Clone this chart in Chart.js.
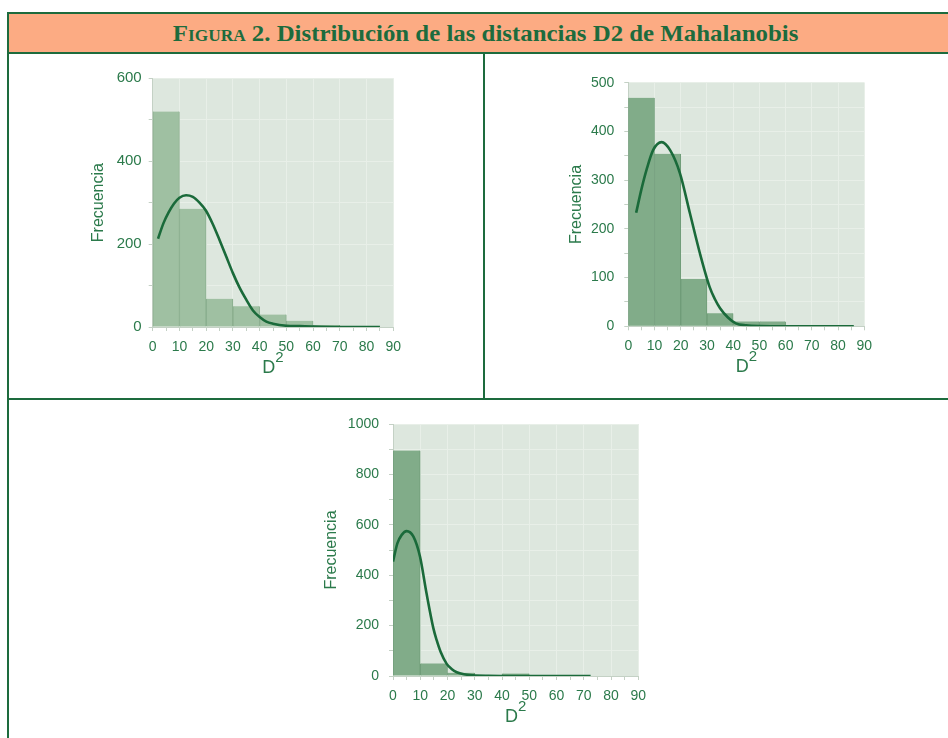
<!DOCTYPE html>
<html lang="es">
<head>
<meta charset="utf-8">
<title>Figura 2. Distribución de las distancias D2 de Mahalanobis</title>
<script src="https://cdn.jsdelivr.net/npm/chart.js@4.4.1/dist/chart.umd.min.js"></script>
<style>
  html, body { margin: 0; padding: 0; background: #ffffff; }
  body { position: relative; width: 948px; height: 738px; overflow: hidden; }
  .rule { position: absolute; background: #1d6b3d; }
  #banner {
    position: absolute; left: 7px; top: 12px; width: 956px; height: 42px;
    box-sizing: border-box; background: #fcab83;
    border: 2px solid #1d6b3d; border-right: none;
  }
  #banner h1 {
    margin: 0; text-align: center;
    font: bold 23px "Liberation Serif", "DejaVu Serif", serif; color: #1d6b3d;
    line-height: 39px;
  }
  #banner h1 .inner { display: inline-block; transform: scaleX(1.08); }
  #banner h1 .sc { font-variant: small-caps; }
  canvas { position: absolute; }
</style>
</head>
<body>
<div id="banner"><h1><span class="inner"><span class="sc">Figura</span> 2. Distribución de las distancias D2 de Mahalanobis</span></h1></div>
<div class="rule" style="left:7px; top:54px; width:2px; height:700px;"></div>
<div class="rule" style="left:483px; top:54px; width:2px; height:345px;"></div>
<div class="rule" style="left:7px; top:398px; width:960px; height:2px;"></div>

<canvas id="chartA" width="360" height="330" style="left:60px; top:60px;"></canvas>
<canvas id="chartB" width="360" height="330" style="left:540px; top:60px;"></canvas>
<canvas id="chartC" width="370" height="333" style="left:300px; top:405px;"></canvas>

<script>
// histogram bins (width 10) and their counts
const binCenters = [5, 15, 25, 35, 45, 55, 65, 75, 85];
const freqA = [520, 285, 68, 50, 30, 15, 5, 1, 0];
const freqB = [469, 354, 97, 27, 10, 10, 1, 2, 0];
const freqC = [895, 50, 13, 0, 10, 0, 0, 0, 0];

// fitted curves drawn over each histogram
const curveAX = [2, 4, 6, 8, 10, 12.5, 15, 17.5, 20, 22.5, 25, 27.5, 30, 32.5, 35, 37.5, 40, 42.5, 45, 50, 55, 60, 70, 85];
const curveAY = [213, 250, 277, 298, 312, 318, 314, 300, 280, 248, 210, 170, 130, 95, 66, 40, 24, 13, 8, 3, 2, 1, 0, 0];
const curveBX = [3, 5, 7, 9.5, 12.7, 16, 19.7, 23.5, 27.3, 31, 33, 35, 38, 41, 45, 50, 60, 70, 86];
const curveBY = [233, 281, 322, 362, 378, 361, 314, 232, 150, 81, 56, 37, 18, 6, 2, 0.5, 0, 0, 0];
const curveCX = [0, 1.6, 3.2, 5, 7.5, 9.9, 12.3, 14.8, 16, 17.5, 19.7, 21.5, 23.4, 26, 29.4, 35, 45, 60, 72.5];
const curveCY = [454, 526, 560, 575, 553, 474, 328, 190, 143, 95, 48, 28, 15, 7, 3, 1, 0, 0, 0];

// tick labels
const xTickLabels = ['0', '10', '20', '30', '40', '50', '60', '70', '80', '90'];
const yTickLabelsA = ['0', '200', '400', '600'];
const yTickLabelsB = ['0', '100', '200', '300', '400', '500'];
const yTickLabelsC = ['0', '200', '400', '600', '800', '1000'];

const SANS = '"Liberation Sans", Arial, sans-serif';
const TEXT = '#2b7a4b';
const CURVE = '#1a6a3a';
const PLOT_BG = '#dde7de';
const GRID = '#e8efe8';
const TICK = '#c4d1c5';

/** fills the plot rectangle before grid and bars are drawn */
const plotBackground = {
    id: 'plotBackground',
    beforeDraw(chart, args, opts) {
        const { ctx, chartArea } = chart;
        ctx.save();
        ctx.fillStyle = opts.color;
        ctx.fillRect(chartArea.left, chartArea.top, chartArea.right - chartArea.left, chartArea.bottom - chartArea.top);
        ctx.restore();
    },
};

/** x axis title with a raised exponent: D² */
const squaredTitle = {
    id: 'squaredTitle',
    afterDraw(chart, args, opts) {
        const { ctx, chartArea } = chart;
        ctx.save();
        ctx.fillStyle = opts.color;
        ctx.textBaseline = 'alphabetic';
        ctx.textAlign = 'left';
        const baseFont = `${opts.size}px ${SANS}`;
        const supFont = `${opts.supSize}px ${SANS}`;
        ctx.font = baseFont;
        const wBase = ctx.measureText(opts.base).width;
        ctx.font = supFont;
        const wSup = ctx.measureText(opts.sup).width;
        const x0 = (chartArea.left + chartArea.right) / 2 - (wBase + wSup) / 2;
        const y = chartArea.bottom + opts.offset;
        ctx.font = baseFont;
        ctx.fillText(opts.base, x0, y);
        ctx.font = supFont;
        ctx.fillText(opts.sup, x0 + wBase, y - opts.raise);
        ctx.restore();
    },
};

function toPoints(xs, ys) {
    return xs.map((x, i) => ({ x, y: ys[i] }));
}

/**
 * Builds one histogram panel.
 *
 * @param {string} id canvas id
 * @param {object} p panel settings
 */
function makeHistogram(id, p) {
    return new Chart(document.getElementById(id), {
        type: 'bar',
        data: {
            datasets: [
                {
                    type: 'line',
                    data: toPoints(p.curveX, p.curveY),
                    borderColor: CURVE,
                    borderWidth: 2.6,
                    pointRadius: 0,
                    fill: false,
                    cubicInterpolationMode: 'monotone',
                    order: 0,
                },
                {
                    type: 'bar',
                    data: toPoints(binCenters, p.freq),
                    backgroundColor: p.barColor,
                    borderColor: p.barEdge,
                    borderWidth: { left: 1, right: 1, top: 0, bottom: 0 },
                    borderSkipped: false,
                    barThickness: 'flex',
                    barPercentage: 1,
                    categoryPercentage: 1,
                    order: 1,
                },
            ],
        },
        options: {
            responsive: false,
            animation: false,
            devicePixelRatio: 1,
            layout: { padding: { left: 0, top: p.padTop, right: p.padRight, bottom: 0 } },
            plugins: {
                legend: { display: false },
                tooltip: { enabled: false },
                plotBackground: { color: PLOT_BG },
                squaredTitle: { base: 'D', sup: '2', size: 18, supSize: 15, offset: 46, raise: 11, color: TEXT },
            },
            scales: {
                x: {
                    type: 'linear',
                    min: 0,
                    max: 90,
                    offset: false,
                    ticks: {
                        stepSize: 5,
                        autoSkip: false,
                        maxRotation: 0,
                        padding: 7.5,
                        color: TEXT,
                        font: { family: SANS, size: 14 },
                        callback: (v) => (v % 10 === 0 ? xTickLabels[v / 10] : ''),
                    },
                    grid: {
                        offset: false,
                        color: (ctx) => (ctx.tick && ctx.tick.value % 10 === 0 && ctx.tick.value > 0 ? GRID : 'rgba(0,0,0,0)'),
                        tickColor: TICK,
                        tickLength: 4,
                    },
                    border: { color: TICK, width: 1 },
                    afterFit: (s) => { s.height = p.xHeight; },
                },
                y: {
                    type: 'linear',
                    min: 0,
                    max: p.yMax,
                    ticks: {
                        stepSize: p.yStep,
                        padding: p.yPad,
                        color: TEXT,
                        font: { family: SANS, size: p.yFont },
                        callback: (v) => (p.yLabels.includes(String(v)) ? String(v) : ''),
                    },
                    grid: {
                        color: (ctx) => (ctx.tick && ctx.tick.value > 0 ? GRID : 'rgba(0,0,0,0)'),
                        tickColor: TICK,
                        tickLength: 4,
                    },
                    border: { color: TICK, width: 1 },
                    title: {
                        display: true,
                        text: 'Frecuencia',
                        color: TEXT,
                        font: { family: SANS, size: 16 },
                        padding: { top: p.titlePad, bottom: 0 },
                    },
                    afterFit: (s) => { s.width = p.yWidth; },
                },
            },
        },
        plugins: [plotBackground, squaredTitle],
    });
}

makeHistogram('chartA', {
    freq: freqA, curveX: curveAX, curveY: curveAY,
    barColor: '#9fc0a2', barEdge: '#88ac8c',
    yMax: 600, yStep: 100, yLabels: yTickLabelsA, yFont: 15, yPad: 7,
    yWidth: 92.7, xHeight: 63, padTop: 18.3, padRight: 26.7, titlePad: 29,
});

makeHistogram('chartB', {
    freq: freqB, curveX: curveBX, curveY: curveBY,
    barColor: '#81ac89', barEdge: '#6f9c78',
    yMax: 500, yStep: 50, yLabels: yTickLabelsB, yFont: 14, yPad: 10,
    yWidth: 88.3, xHeight: 63.7, padTop: 22.7, padRight: 35.7, titlePad: 27,
});

makeHistogram('chartC', {
    freq: freqC, curveX: curveCX, curveY: curveCY,
    barColor: '#81ac89', barEdge: '#6f9c78',
    yMax: 1000, yStep: 100, yLabels: yTickLabelsC, yFont: 14, yPad: 10,
    yWidth: 93, xHeight: 62, padTop: 19, padRight: 31.7, titlePad: 22,
});
</script>
</body>
</html>
